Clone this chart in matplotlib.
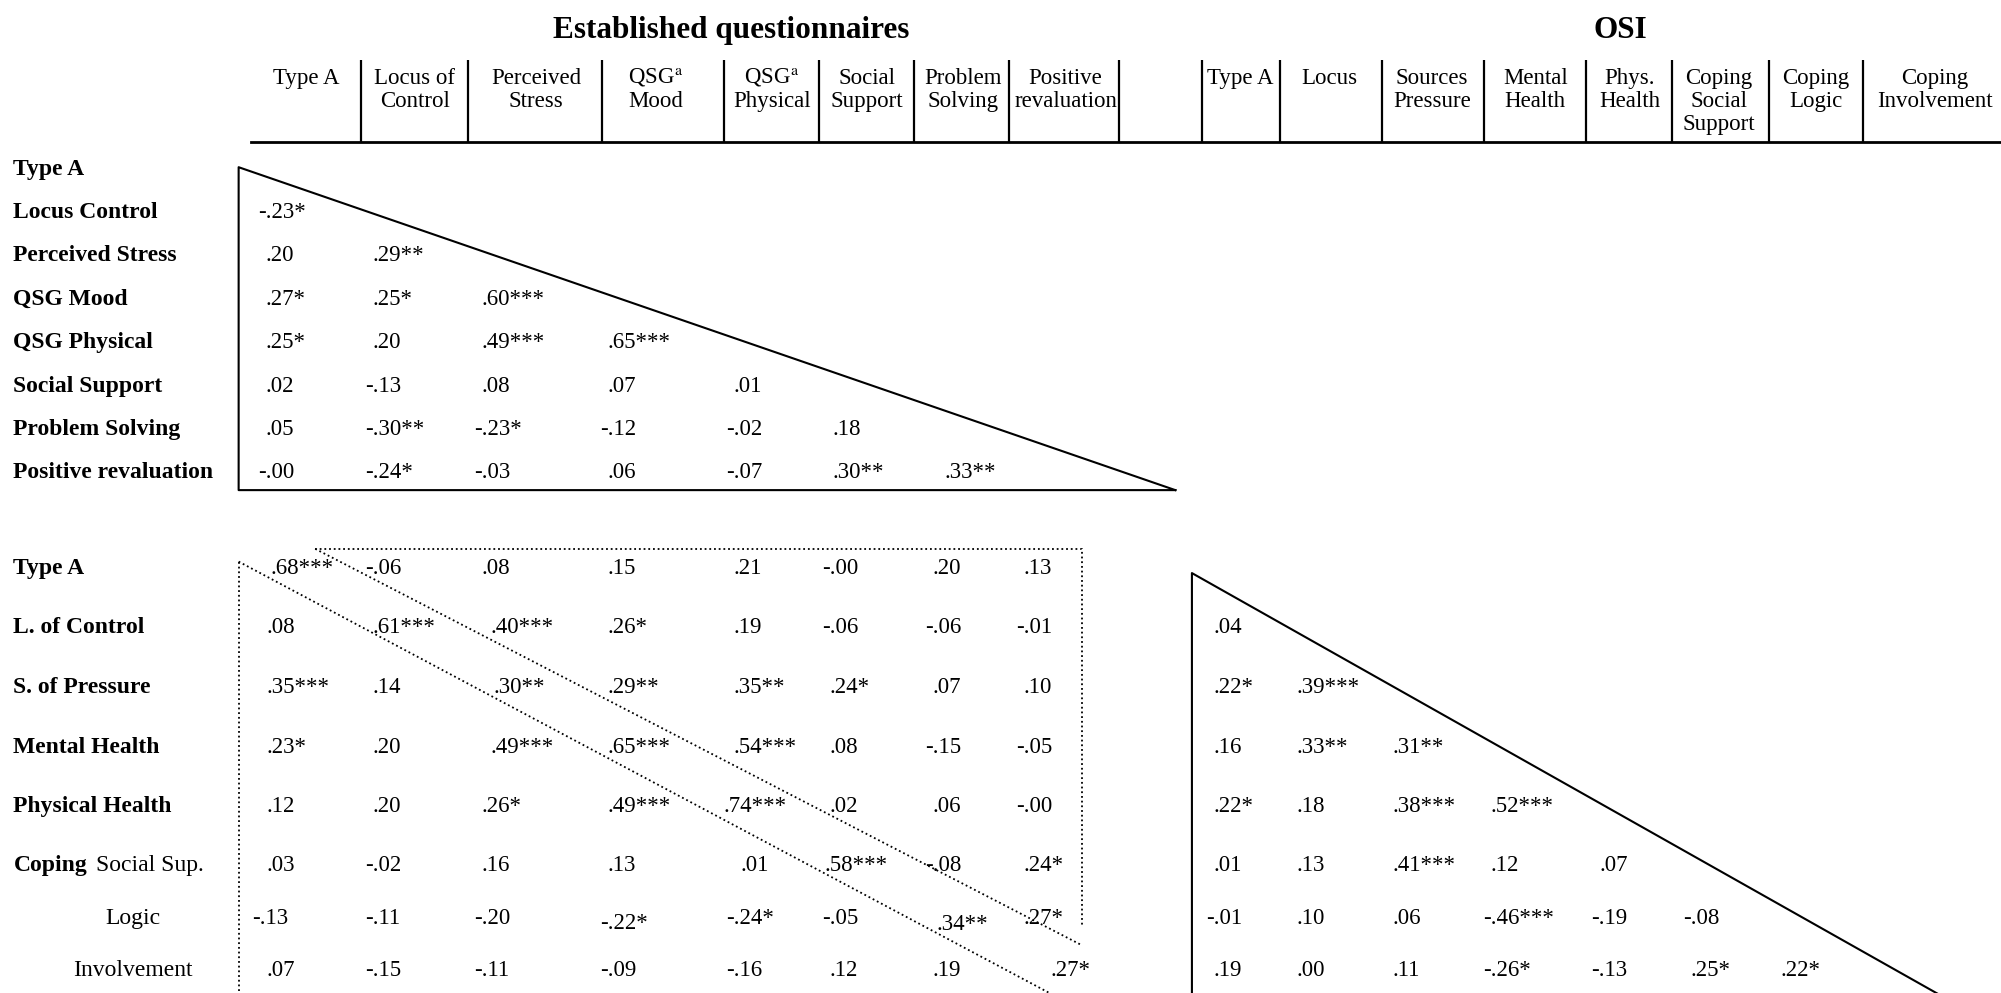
import matplotlib
matplotlib.use('Agg')
import matplotlib.pyplot as plt

plt.rcParams['font.family'] = ['Liberation Serif', 'DejaVu Serif']
plt.rcParams['mathtext.fontset'] = 'stix'

# ---- table content ----
est_title = 'Established questionnaires'
osi_title = 'OSI'

est_headers = ['Type A', 'Locus of\nControl', 'Perceived\nStress', 'QSG$^{\\mathrm{a}}$\nMood',
               'QSG$^{\\mathrm{a}}$\nPhysical', 'Social\nSupport', 'Problem\nSolving', 'Positive\nrevaluation']
osi_headers = ['Type A', 'Locus', 'Sources\nPressure', 'Mental\nHealth', 'Phys.\nHealth',
               'Coping\nSocial\nSupport', 'Coping\nLogic', 'Coping\nInvolvement']

est_rows = ['Type A', 'Locus Control', 'Perceived Stress', 'QSG Mood', 'QSG Physical',
            'Social Support', 'Problem Solving', 'Positive revaluation']
osi_rows = ['Type A', 'L. of Control', 'S. of Pressure', 'Mental Health', 'Physical Health',
            'Social Sup.', 'Logic', 'Involvement']

# established x established (lower triangle)
est_corr = [
    [],
    ['-.23*'],
    ['.20', '.29**'],
    ['.27*', '.25*', '.60***'],
    ['.25*', '.20', '.49***', '.65***'],
    ['.02', '-.13', '.08', '.07', '.01'],
    ['.05', '-.30**', '-.23*', '-.12', '-.02', '.18'],
    ['-.00', '-.24*', '-.03', '.06', '-.07', '.30**', '.33**'],
]

# OSI (rows) x established (columns)
cross_corr = [
    ['.68***', '-.06', '.08', '.15', '.21', '-.00', '.20', '.13'],
    ['.08', '.61***', '.40***', '.26*', '.19', '-.06', '-.06', '-.01'],
    ['.35***', '.14', '.30**', '.29**', '.35**', '.24*', '.07', '.10'],
    ['.23*', '.20', '.49***', '.65***', '.54***', '.08', '-.15', '-.05'],
    ['.12', '.20', '.26*', '.49***', '.74***', '.02', '.06', '-.00'],
    ['.03', '-.02', '.16', '.13', '.01', '.58***', '-.08', '.24*'],
    ['-.13', '-.11', '-.20', '-.22*', '-.24*', '-.05', '.34**', '.27*'],
    ['.07', '-.15', '-.11', '-.09', '-.16', '.12', '.19', '.27*'],
]

# OSI x OSI (lower triangle)
osi_corr = [
    [],
    ['.04'],
    ['.22*', '.39***'],
    ['.16', '.33**', '.31**'],
    ['.22*', '.18', '.38***', '.52***'],
    ['.01', '.13', '.41***', '.12', '.07'],
    ['-.01', '.10', '.06', '-.46***', '-.19', '-.08'],
    ['.19', '.00', '.11', '-.26*', '-.13', '.25*', '.22*'],
]

# ---- layout (page units, 1568 x 778) ----
W, H = 1568, 778
fs_title, fs_head, fs_lab, fs_val = 22.5, 16.5, 17, 16.5
base = 5.8          # baseline offset below a row centre
minus_w = 5.8       # hanging minus sign

head_x = [240, 325, 420, 514, 605, 679, 755, 835, 972, 1042, 1122, 1203, 1277, 1347, 1423, 1516]
head_y = [60, 78, 96]
sep_x = [283, 367, 472, 567, 642, 716, 791, 877, 942, 1003, 1083, 1163, 1243, 1310, 1386, 1460]

top_y = [131, 165, 199, 233, 267, 301, 335, 369]
top_x = [208, 292, 377, 476, 575, 652, 740]
bot_y = [444, 490, 537, 584, 630, 677, 718, 759]
cross_x = [209, 292, 377, 476, 575, 650, 731, 802]
osi_x = [951, 1016, 1091, 1168, 1253, 1325, 1395]
cross_nudge = {(0, 0): (3, 0), (1, 2): (7, 0), (2, 2): (10, 0), (3, 2): (7, 0),
               (4, 4): (-8, 0), (5, 4): (5, 0), (5, 5): (-4, 0), (6, 3): (0, 4),
               (6, 6): (3, 5), (7, 7): (21, 0), (6, 0): (-6, 0)}

fig = plt.figure(figsize=(20.01, 9.93), dpi=100)
ax = fig.add_axes([0, 0, 1, 1])
ax.set_xlim(0, W)
ax.set_ylim(H, 0)
ax.axis('off')


def cell(x, y, s, dx=0, dy=0):
    if s.startswith('-'):
        x -= minus_w
    ax.text(x + dx, y + base + dy, s, fontsize=fs_val, ha='left', va='baseline')


# titles
ax.text(573, 30, est_title, fontsize=fs_title, fontweight='bold', ha='center', va='baseline')
ax.text(1270, 30, osi_title, fontsize=fs_title, fontweight='bold', ha='center', va='baseline')

# column headers
for x, lab in zip(head_x, est_headers + osi_headers):
    for k, line in enumerate(lab.split('\n')):
        ax.text(x, head_y[k] + base, line, fontsize=fs_head, ha='center', va='baseline')
for x in sep_x:
    ax.plot([x, x], [47, 111], color='black', lw=1.6, solid_capstyle='butt')
ax.plot([197, W], [111, 111], color='black', lw=2.0)

# upper block: established questionnaires
for i, lab in enumerate(est_rows):
    ax.text(10.5, top_y[i] + base, lab, fontsize=fs_lab, fontweight='bold', ha='left', va='baseline')
    for j, s in enumerate(est_corr[i]):
        cell(top_x[j], top_y[i], s)
ax.plot([921, 187, 187, 921], [384, 131, 384, 384], color='black', lw=1.5)

# lower block row labels
for i, lab in enumerate(osi_rows):
    y = bot_y[i] + base
    if i < 5:
        ax.text(10.5, y, lab, fontsize=fs_lab, fontweight='bold', ha='left', va='baseline')
    elif i == 5:
        ax.text(10.5, y, 'Coping', fontsize=fs_lab, fontweight='bold', ha='left', va='baseline')
        ax.text(75, y, lab, fontsize=fs_lab, ha='left', va='baseline')
    else:
        ax.text(104, y, lab, fontsize=fs_lab, ha='center', va='baseline')

# lower-left block: OSI x established
for i, row in enumerate(cross_corr):
    for j, s in enumerate(row):
        dx, dy = cross_nudge.get((i, j), (0, 0))
        cell(cross_x[j], bot_y[i], s, dx, dy)
dot = dict(color='black', lw=1.3, linestyle=(0, (1, 1.6)))
ax.plot([187, 187], [440, H + 10], **dot)
ax.plot([187, 187 + (H + 10 - 440) / 0.532], [440, H + 10], **dot)
ax.plot([247, 848, 848], [430, 430, 725], **dot)
ax.plot([247, 848], [430, 430 + 601 * 0.517], **dot)

# lower-right block: OSI x OSI
for i, row in enumerate(osi_corr):
    for j, s in enumerate(row):
        cell(osi_x[j], bot_y[i], s)
ax.plot([934 + (H + 10 - 449) / 0.564, 934, 934], [H + 10, 449, H + 10], color='black', lw=1.5)

fig.savefig('out.png', dpi=100)
